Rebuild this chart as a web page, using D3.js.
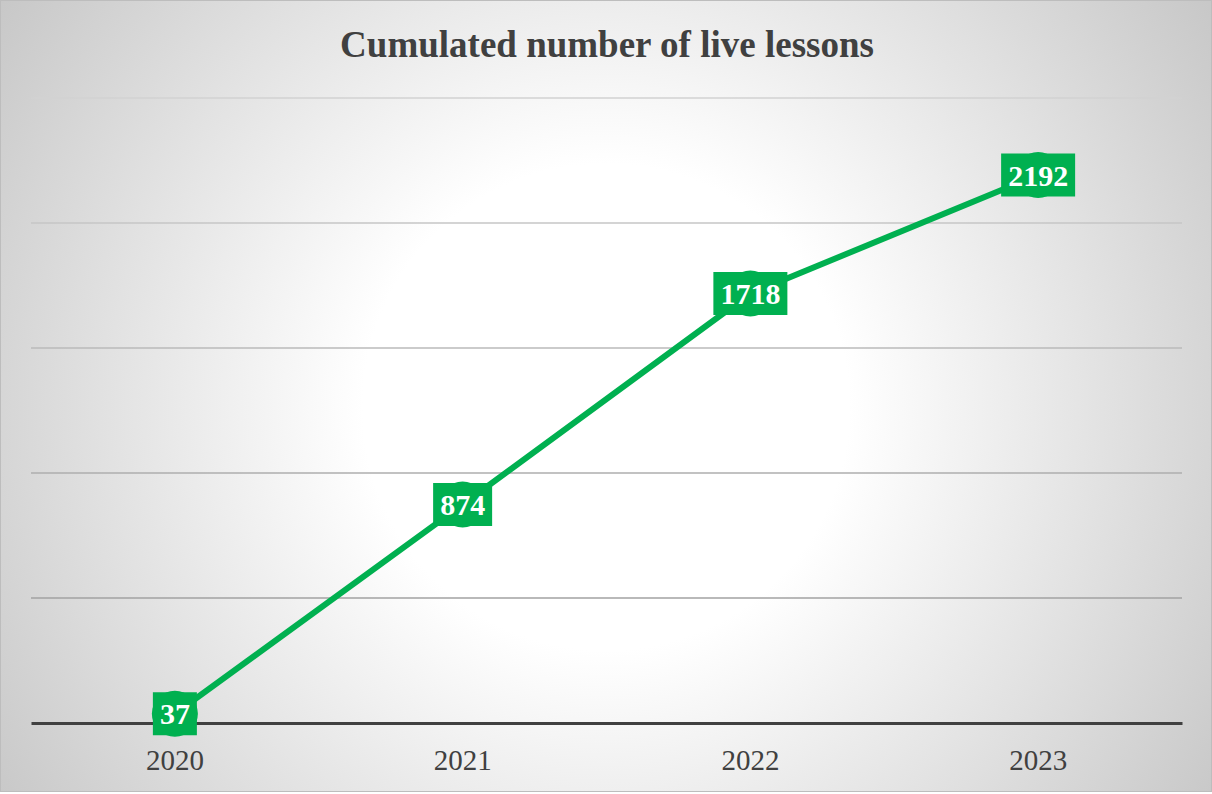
<!DOCTYPE html>
<html>
<head>
<meta charset="utf-8">
<script src="https://cdn.jsdelivr.net/npm/d3@7"></script>
<style>
  html, body { margin: 0; padding: 0; background: #fff; }
  svg { display: block; }
</style>
</head>
<body>
<svg id="chart" width="1212" height="794"></svg>
<script>
// Cumulated number of live lessons per year
const years = ["2020", "2021", "2022", "2023"];
const lessons = [37, 874, 1718, 2192];
const yTicks = [0, 500, 1000, 1500, 2000, 2500];
const chartTitle = "Cumulated number of live lessons";

const W = 1212, H = 794;
const margin = { top: 98, right: 30, bottom: 71, left: 31 };
const serif = "'Liberation Serif', 'Times New Roman', serif";
const svg = d3.select("#chart");

// radial background
const defs = svg.append("defs");
const grad = defs.append("radialGradient")
  .attr("id", "bg").attr("gradientUnits", "userSpaceOnUse")
  .attr("cx", W / 2).attr("cy", H / 2 + 10).attr("r", 760);
grad.append("stop").attr("offset", "0%").attr("stop-color", "#ffffff");
grad.append("stop").attr("offset", "32%").attr("stop-color", "#ffffff");
grad.append("stop").attr("offset", "100%").attr("stop-color", "#c4c4c4");

svg.append("rect").attr("x", 0.5).attr("y", 0.5)
  .attr("width", W - 1).attr("height", H - 3)
  .attr("fill", "url(#bg)").attr("stroke", "#bdbdbd").attr("stroke-width", 1);

const x = d3.scaleBand().domain(years)
  .range([margin.left, W - margin.right]).paddingInner(0).paddingOuter(0);
const y = d3.scaleLinear().domain([0, 2500])
  .range([H - margin.bottom, margin.top]);

// gridlines fade toward the top of the plot
const gridColor = d3.scaleLinear().domain([500, 2500])
  .range(["#a2a2a2", "#d2d2d2"]);
svg.append("g")
  .selectAll("line")
  .data(yTicks.filter(d => d > 0))
  .join("line")
  .attr("x1", margin.left).attr("x2", W - margin.right)
  .attr("y1", d => y(d)).attr("y2", d => y(d))
  .attr("stroke", d => gridColor(d)).attr("stroke-width", 1.3);

// category axis
const xAxis = svg.append("g")
  .attr("transform", `translate(0,${y(0)})`)
  .call(d3.axisBottom(x).tickSize(0).tickPadding(26));
xAxis.select(".domain").attr("stroke", "#404040").attr("stroke-width", 3);
xAxis.selectAll("text")
  .attr("font-family", serif)
  .attr("font-size", 29).attr("fill", "#404040");

// title
svg.append("text")
  .attr("x", W / 2 + 1).attr("y", 57)
  .attr("text-anchor", "middle")
  .attr("font-family", serif)
  .attr("font-weight", "bold").attr("font-size", 37).attr("fill", "#404040")
  .text(chartTitle);

const cx = d => x(d) + x.bandwidth() / 2;
const pts = years.map((yr, i) => ({ yr, v: lessons[i] }));

// line
svg.append("path")
  .datum(pts)
  .attr("fill", "none").attr("stroke", "#00B050").attr("stroke-width", 6)
  .attr("stroke-linejoin", "round")
  .attr("d", d3.line().x(d => cx(d.yr)).y(d => y(d.v)));

// markers
svg.append("g").selectAll("circle").data(pts).join("circle")
  .attr("cx", d => cx(d.yr)).attr("cy", d => y(d.v))
  .attr("r", 23).attr("fill", "#00B050");

// value labels
const lab = svg.append("g").selectAll("g").data(pts).join("g")
  .attr("transform", d => `translate(${cx(d.yr)},${y(d.v)})`);
lab.append("text")
  .attr("text-anchor", "middle").attr("dy", "0.35em")
  .attr("font-family", serif)
  .attr("font-weight", "bold").attr("font-size", 30).attr("fill", "#ffffff")
  .text(d => d.v);
lab.each(function () {
  const g = d3.select(this);
  const bb = g.select("text").node().getBBox();
  const w = bb.width + 14;
  g.insert("rect", "text")
    .attr("x", -w / 2).attr("y", -21.5)
    .attr("width", w).attr("height", 43)
    .attr("fill", "#00B050");
});
</script>
</body>
</html>
